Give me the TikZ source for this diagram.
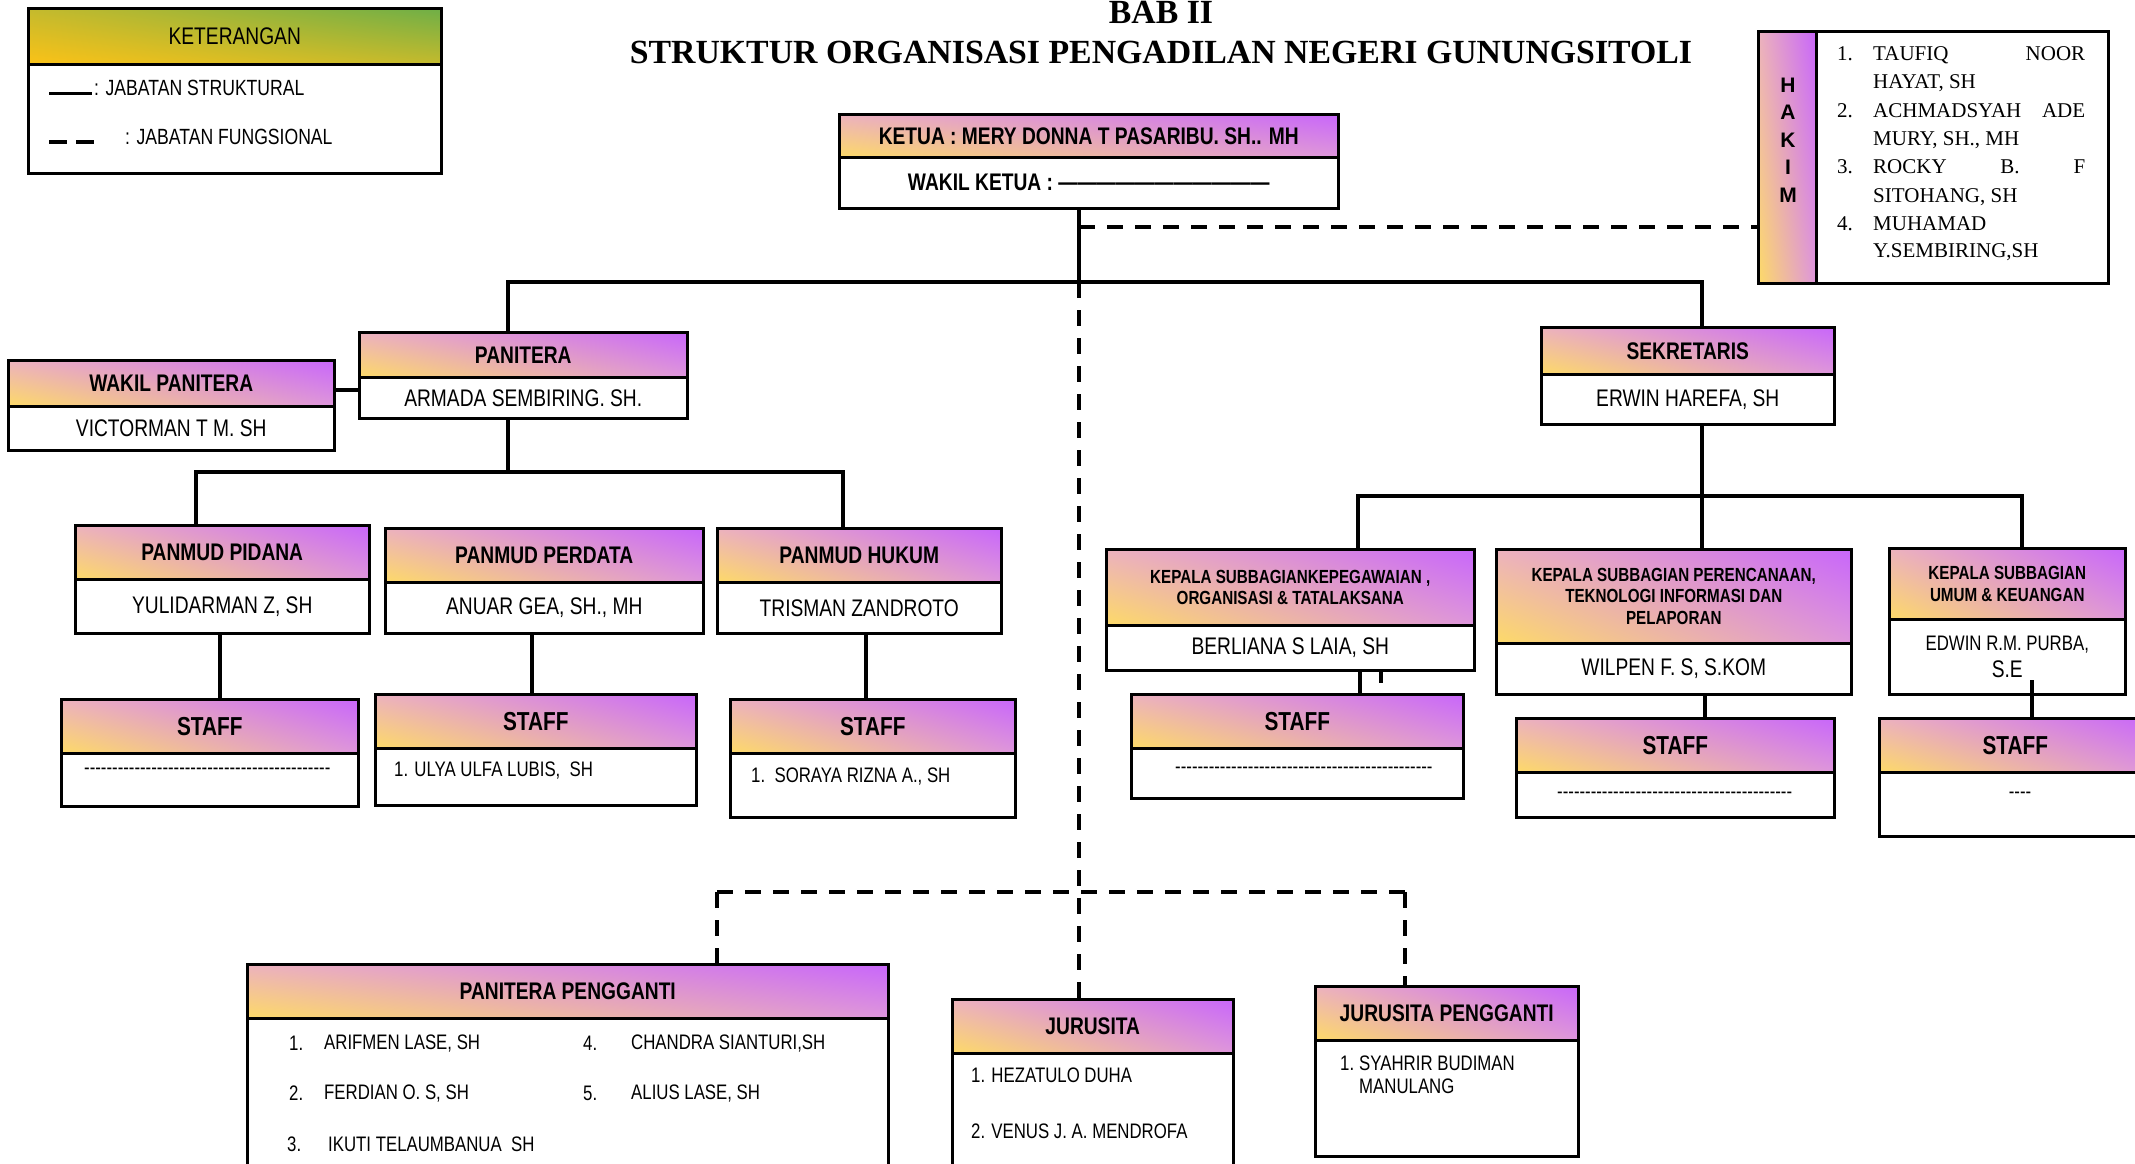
\documentclass[tikz,border=0pt]{standalone}
\usepackage{fontspec}
\setmainfont{Liberation Serif}
\newfontfamily\nar[FakeStretch=0.8]{Liberation Sans}
\newfontfamily\arial{Liberation Sans}
\usetikzlibrary{calc,shadings}

\definecolor{gy}{RGB}{253,218,104}
\definecolor{gp}{RGB}{200,102,250}
\definecolor{gul}{RGB}{236,178,190}
\definecolor{glr}{RGB}{222,150,220}
\definecolor{ky}{RGB}{251,194,23}
\definecolor{kg}{RGB}{110,175,71}
\definecolor{km}{RGB}{196,186,45}

\newcommand\hy[1]{\foreach \k in {1,...,#1}{-}}
\newcommand\emd[1]{\foreach \k in {1,...,#1}{\textemdash}}

\tikzset{
 hdr/.style={draw=black, line width=2.5pt, inner sep=0pt, anchor=north west, align=center,
   lower left=gy, upper right=gp, upper left=gul, lower right=glr,
   font=\nar\bfseries\fontsize{24}{27}\selectfont},
 bdy/.style={draw=black, line width=2.5pt, fill=white, inner sep=0pt, anchor=north west, align=center,
   font=\nar\fontsize{24}{27}\selectfont},
 stf/.style={font=\nar\bfseries\fontsize{26}{28}\selectfont},
 kph/.style={font=\nar\bfseries\fontsize{19}{21.5}\selectfont},
 conn/.style={line width=3.5pt, line cap=rect},
 fconn/.style={line width=4pt, dash pattern=on 16pt off 12pt},
 txt/.style={inner sep=0pt, anchor=west, font=\nar\fontsize{21}{24}\selectfont},
 hk/.style={inner sep=0pt, anchor=base west, font=\fontsize{21}{28}\selectfont},
}

% #1 name, #2 x1, #3 y1, #4 x2, #5 header bottom, #6 y2, #7 header style, #8 header, #9 body
\newcommand\obox[9]{%
 \node[hdr, minimum width={(#4-#2)*1pt}, minimum height={(#5-#3)*1pt}, #7] (#1-h) at (#2,#3) {#8};
 \node[bdy, minimum width={(#4-#2)*1pt}, minimum height={(#6-#5)*1pt}] (#1-b) at (#2,#5) {#9};
}

\begin{document}
\begin{tikzpicture}[x=1pt,y=-1pt]
\useasboundingbox (0,0) rectangle (2135,1163);
\clip (0,0) rectangle (2135,1163);
\fill[white] (0,0) rectangle (2135,1163);

% ---------- titles
\node[inner sep=0pt, anchor=base, font=\bfseries\fontsize{33.8}{36}\selectfont] (bab) at (1161,23) {BAB II};
\node[inner sep=0pt, anchor=base, font=\bfseries\fontsize{33.8}{36}\selectfont] (title) at (1161,63) {STRUKTUR ORGANISASI PENGADILAN NEGERI GUNUNGSITOLI};

% ---------- legend
\node[hdr, lower left=ky, upper right=kg, upper left=km, lower right=km,
  font=\nar\fontsize{24}{27}\selectfont, minimum width=413pt, minimum height=56pt] (leg-h) at (27,7) {KETERANGAN};
\node[bdy, minimum width=413pt, minimum height=109pt] (leg-b) at (27,63) {};
\node[txt, font=\nar\fontsize{22}{24}\selectfont] (leg-t1) at (94,88) {: JABATAN STRUKTURAL};
\node[txt, font=\nar\fontsize{22}{24}\selectfont] (leg-t2) at (125,137) {: JABATAN FUNGSIONAL};
\draw[line width=3pt] (49,93) -- (92,93);
\draw[line width=4pt] (49,142) -- (67,142);
\draw[line width=4pt] (76,142) -- (94,142);

% ---------- hakim
\node[hdr, minimum width=58pt, minimum height=252pt] (hk-s) at (1757,30) {};
\node[bdy, minimum width=292pt, minimum height=252pt] (hk-b) at (1815,30) {};
\node[inner sep=0pt, align=center, font=\arial\bfseries\fontsize{21}{27.5}\selectfont] (hk-t) at (1788,140) {H\\A\\K\\I\\M};
\node[hk] (hn1) at (1837,60) {1.};
\node[hk] (hl1) at (1873,60) {\makebox[212pt][l]{TAUFIQ\hfill NOOR}};
\node[hk] (hl2) at (1873,88) {HAYAT, SH};
\node[hk] (hn2) at (1837,117) {2.};
\node[hk] (hl3) at (1873,117) {\makebox[212pt][l]{ACHMADSYAH\hfill ADE}};
\node[hk] (hl4) at (1873,145) {MURY, SH., MH};
\node[hk] (hn3) at (1837,173) {3.};
\node[hk] (hl5) at (1873,173) {\makebox[212pt][l]{ROCKY\hfill B.\hfill F}};
\node[hk] (hl6) at (1873,202) {SITOHANG, SH};
\node[hk] (hn4) at (1837,230) {4.};
\node[hk] (hl7) at (1873,230) {MUHAMAD};
\node[hk] (hl8) at (1873,257) {Y.SEMBIRING,SH};

% ---------- boxes
\obox{ket}{838}{113}{1337}{156}{207}{}{KETUA : MERY DONNA T PASARIBU. SH.. MH}{\bfseries WAKIL KETUA : \emd{11}}
\obox{wp}{7}{359}{333}{405}{449}{}{WAKIL PANITERA}{VICTORMAN T M. SH}
\obox{pan}{358}{331}{686}{376}{417}{}{PANITERA}{ARMADA SEMBIRING. SH.}
\obox{pid}{74}{524}{368}{578}{632}{}{PANMUD PIDANA}{YULIDARMAN Z, SH}
\obox{per}{384}{527}{702}{581}{632}{}{PANMUD PERDATA}{ANUAR GEA, SH., MH}
\obox{huk}{716}{527}{1000}{581}{632}{}{PANMUD HUKUM}{TRISMAN ZANDROTO}
\obox{st1}{60}{698}{357}{752}{805}{stf}{STAFF}{}
\obox{st2}{374}{693}{695}{747}{804}{stf}{STAFF}{}
\obox{st3}{729}{698}{1014}{752}{816}{stf}{STAFF}{}
\obox{sek}{1540}{326}{1833}{373}{423}{}{SEKRETARIS}{ERWIN HAREFA, SH}
\obox{kp1}{1105}{548}{1473}{624}{669}{kph}{KEPALA SUBBAGIANKEPEGAWAIAN ,\\ORGANISASI \& TATALAKSANA}{BERLIANA S LAIA, SH}
\obox{kp2}{1495}{548}{1850}{642}{693}{kph}{KEPALA SUBBAGIAN PERENCANAAN,\\TEKNOLOGI INFORMASI DAN\\PELAPORAN}{WILPEN F. S, S.KOM}
\obox{kp3}{1888}{547}{2124}{618}{693}{kph}{KEPALA SUBBAGIAN\\UMUM \& KEUANGAN}{\fontsize{21}{23}\selectfont EDWIN R.M. PURBA,\\S.E}
\obox{st4}{1130}{693}{1462}{747}{797}{stf}{STAFF}{}
\obox{st5}{1515}{717}{1833}{771}{816}{stf}{STAFF}{}
\obox{st6}{1878}{717}{2150}{771}{835}{stf}{STAFF}{}
\obox{pp}{246}{963}{887}{1017}{1200}{}{PANITERA PENGGANTI}{}
\obox{jur}{951}{998}{1232}{1052}{1200}{}{JURUSITA}{}
\obox{jp}{1314}{985}{1577}{1039}{1155}{}{JURUSITA PENGGANTI}{}

% ---------- box contents
\node[txt] (st1-t) at (84,771) {\hy{44}};
\node[txt] (st2-t) at (394,770) {1. ULYA ULFA LUBIS,\ \ SH};
\node[txt] (st3-t) at (751,776) {1.\ \ SORAYA RIZNA A., SH};
\node[txt] (st4-t) at (1175,770) {\hy{46}};
\node[txt] (st5-t) at (1557,795) {\hy{42}};
\node[txt, anchor=center] (st6-t) at (2020,795) {\hy{4}};

\node[txt] (pn1) at (289,1043) {1.};
\node[txt] (pl1) at (324,1043) {ARIFMEN LASE, SH};
\node[txt] (pn2) at (289,1093) {2.};
\node[txt] (pl2) at (324,1093) {FERDIAN O. S, SH};
\node[txt] (pn3) at (287,1144) {3.};
\node[txt] (pl3) at (328,1144) {IKUTI TELAUMBANUA\ \ SH};
\node[txt] (pn4) at (583,1043) {4.};
\node[txt] (pl4) at (631,1043) {CHANDRA SIANTURI,SH};
\node[txt] (pn5) at (583,1093) {5.};
\node[txt] (pl5) at (631,1093) {ALIUS LASE, SH};

\node[txt] (jl1) at (971,1075) {1. HEZATULO DUHA};
\node[txt] (jl2) at (971,1131) {2. VENUS J. A. MENDROFA};
\node[txt] (jpn1) at (1340,1063) {1.};
\node[txt] (jpl1) at (1359,1063) {SYAHRIR BUDIMAN};
\node[txt] (jpl2) at (1359,1086) {MANULANG};

% ---------- solid connectors
\coordinate (j0) at (1079,282);
\coordinate (tl) at (508,282);
\coordinate (tr) at (1702,282);
\draw[conn] (ket-b.south -| j0) -- (j0);
\draw[conn] (tl) -- (tr);
\draw[conn] (tl) -- (tl |- pan-h.north);
\draw[conn] (tr) -- (tr |- sek-h.north);
\coordinate (wpj) at (0,390);
\draw[conn] (wp-b.east |- wpj) -- (pan-b.west |- wpj);
\coordinate (pj) at (508,472);
\coordinate (pl) at (196,472);
\coordinate (pr) at (843,472);
\draw[conn] (pan-b.south -| pj) -- (pj);
\draw[conn] (pl) -- (pr);
\draw[conn] (pl) -- (pl |- pid-h.north);
\draw[conn] (pr) -- (pr |- huk-h.north);
\coordinate (c1) at (220,0);
\coordinate (c2) at (532,0);
\coordinate (c3) at (866,0);
\draw[conn] (pid-b.south -| c1) -- (st1-h.north -| c1);
\draw[conn] (per-b.south -| c2) -- (st2-h.north -| c2);
\draw[conn] (huk-b.south -| c3) -- (st3-h.north -| c3);
\coordinate (sj) at (1702,496);
\coordinate (sl) at (1358,496);
\coordinate (sr) at (2022,496);
\draw[conn] (sek-b.south -| sj) -- (sj);
\draw[conn] (sl) -- (sr);
\draw[conn] (sl) -- (sl |- kp1-h.north);
\draw[conn] (sj) -- (sj |- kp2-h.north);
\draw[conn] (sr) -- (sr |- kp3-h.north);
\coordinate (c4) at (1360,0);
\coordinate (c4t) at (1381,681);
\coordinate (c5) at (1705,0);
\coordinate (c6) at (2032,682);
\draw[conn] (kp1-b.south -| c4) -- (st4-h.north -| c4);
\draw[conn] (kp1-b.south -| c4t) -- (c4t);
\draw[conn] (kp2-b.south -| c5) -- (st5-h.north -| c5);
\draw[conn] (c6) -- (c6 |- st6-h.north);

% ---------- dashed connectors
\coordinate (jd) at (1079,227);
\draw[fconn] (jd) -- (jd -| hk-s.west);
\draw[fconn] (j0) -- (j0 |- jur-h.north);
\coordinate (dl) at (717,892);
\coordinate (dr) at (1405,892);
\draw[fconn] (dl) -- (dr);
\draw[fconn] (dl) -- (dl |- pp-h.north);
\draw[fconn] (dr) -- (dr |- jp-h.north);
\end{tikzpicture}
\end{document}
